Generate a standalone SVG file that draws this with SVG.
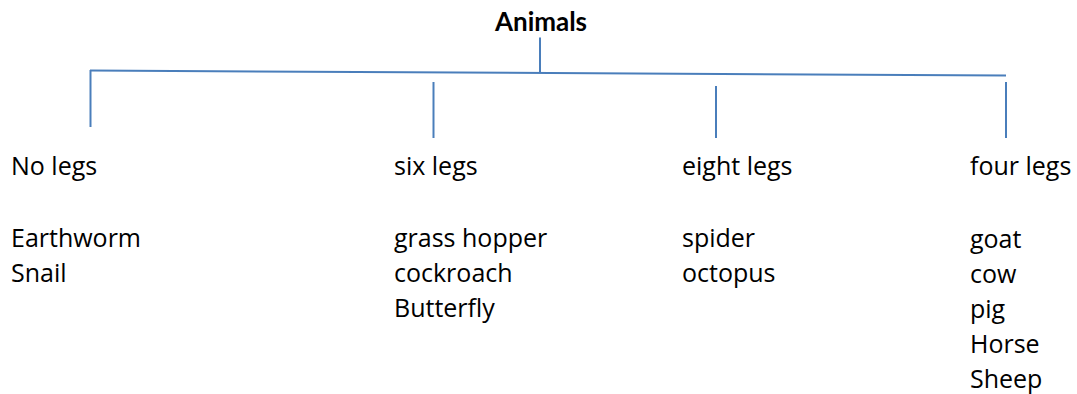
<svg xmlns="http://www.w3.org/2000/svg" width="1077" height="394" viewBox="0 0 1077 394">
<style>
.t{font-family:"Open Sans","Noto Sans","Liberation Sans",sans-serif;font-size:25px;fill:#000}
.b{font-family:Lato,"Open Sans",sans-serif;font-weight:bold;font-size:26px}
.c{stroke:#4A7EBB;stroke-width:2;fill:none}
</style>
<rect width="1077" height="394" fill="#fff"/>
<g id="connectors">
<line class="c" x1="90" y1="70.5" x2="1006" y2="75.5"/>
<line class="c" x1="540" y1="37.5" x2="540" y2="73"/>
<line class="c" x1="90.5" y1="70" x2="90.5" y2="127"/>
<line class="c" x1="433.5" y1="82" x2="433.5" y2="138"/>
<line class="c" x1="716" y1="86" x2="716" y2="138"/>
<line class="c" x1="1006" y1="82" x2="1006" y2="138"/>
</g>
<g id="root"><text class="t b" x="495" y="31" textLength="92">Animals</text></g>
<g id="no-legs">
<text class="t" x="11" y="175">No legs</text>
<text class="t" x="11" y="247">Earthworm</text>
<text class="t" x="11" y="282">Snail</text>
</g>
<g id="six-legs">
<text class="t" x="394" y="175">six legs</text>
<text class="t" x="394" y="247">grass hopper</text>
<text class="t" x="394" y="282">cockroach</text>
<text class="t" x="394" y="317">Butterfly</text>
</g>
<g id="eight-legs">
<text class="t" x="682" y="175">eight legs</text>
<text class="t" x="682" y="247">spider</text>
<text class="t" x="682" y="282">octopus</text>
</g>
<g id="four-legs">
<text class="t" x="970" y="175">four legs</text>
<text class="t" x="970" y="248">goat</text>
<text class="t" x="970" y="283">cow</text>
<text class="t" x="970" y="318">pig</text>
<text class="t" x="970" y="353">Horse</text>
<text class="t" x="970" y="388">Sheep</text>
</g>
</svg>
